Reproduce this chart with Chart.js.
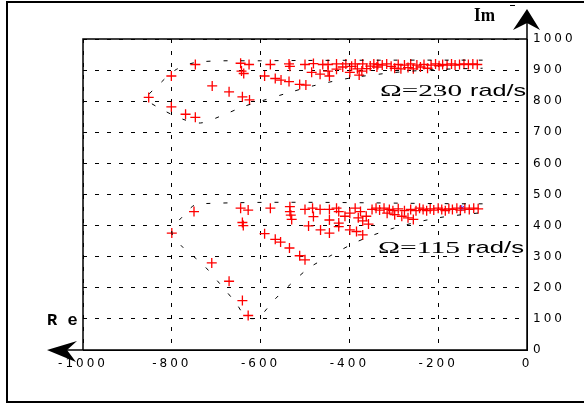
<!DOCTYPE html>
<html>
<head>
<meta charset="utf-8">
<script src="https://cdn.jsdelivr.net/npm/chart.js@4/dist/chart.umd.min.js"></script>
<style>
  body { margin: 0; background: #fff; }
  canvas { display: block; }
</style>
</head>
<body>
<canvas id="chart" width="584" height="405"></canvas>
<script>
// Eigenvalue clusters, Omega = 230 rad/s
var re230 = [-852,-801,-801,-769,-747,-747,-709,-671,-641,-625,-645,-626,-643,-638,-578,-591,-567,-554,-536,-536,
  -534,-512,-498,-500,-481,-485,-466,-460,-448,-448,-445,-429,-429,-408,-399,-387,-382,-378,-370,-361,
  -353,-345,-336,-326,-316,-306,-298,-290,-284,-276,-268,-262,-256,-248,-240,-232,-224,-216,-206,-198,
  -190,-180,-170,-162,-152,-142,-132,-122,-112,-415,-395,-372,-338];
var im230 = [812,881,782,758,748,918,849,830,814,804,922,918,897,889,918,881,873,868,863,920,
  912,854,852,918,921,893,887,918,918,897,881,920,903,920,893,920,904,884,920,905,
  913,920,918,916,920,912,906,918,904,916,908,920,904,916,910,918,906,916,920,914,
  918,916,920,916,918,920,918,920,918,910,912,897,910];

// Eigenvalue clusters, Omega = 115 rad/s
var re115 = [-800,-750,-710,-671,-641,-628,-645,-628,-641,-639,-578,-591,-567,-555,-535,-512,-500,-534,-534,-532,
  -530,-500,-483,-466,-481,-492,-465,-445,-445,-424,-424,-445,-429,-424,-399,-384,-370,-399,-387,-380,
  -370,-362,-357,-349,-340,-332,-322,-315,-310,-302,-298,-290,-282,-276,-268,-262,-256,-250,-242,-234,
  -226,-218,-210,-200,-192,-184,-176,-168,-158,-150,-140,-130,-120,-110,-410,-375];
var im115 = [376,445,280,221,159,111,456,450,410,400,456,374,356,347,328,303,290,461,445,434,
  420,452,456,452,429,399,386,376,418,408,397,452,456,445,386,381,370,440,456,425,
  415,430,405,452,456,450,456,440,452,448,435,454,430,448,425,452,420,448,456,452,
  448,454,450,456,452,448,454,452,456,450,456,452,456,454,430,445];

// blue marker
var reMark = [-147];
var imMark = [456];

// dashed envelopes
var envRe230 = [-100,-300,-600,-740,-790,-830,-856,-820,-775,-735,-690,-640,-600,-540,-480,-400,-300,-200,-100];
var envIm230 = [932,932,930,926,902,852,808,772,742,730,752,782,800,826,850,874,892,902,906];
var envRe115 = [-100,-740,-775,-800,-775,-730,-690,-655,-632,-605,-570,-530,-490,-440,-380,-300,-200,-100];
var envIm115 = [470,470,430,380,330,275,210,150,105,105,160,215,265,305,350,392,425,442];

var xMin = -1000, xMax = 0, xStep = 200;
var yMin = 0, yMax = 1000, yStep = 100;

function toPoints(xs, ys) {
  return xs.map(function(x, i) { return { x: x, y: ys[i] }; });
}

// stretch text horizontally to a given width
function drawStretched(ctx, text, font, x, y, w) {
  ctx.save();
  ctx.font = font;
  var m = ctx.measureText(text).width;
  ctx.translate(x, y);
  ctx.scale(w / m, 1);
  ctx.fillText(text, 0, 0);
  ctx.restore();
}

var decor = {
  id: 'decor',
  beforeDraw: function(chart) {
    var ctx = chart.ctx;
    ctx.save();
    ctx.fillStyle = '#fff';
    ctx.fillRect(0, 0, chart.width, chart.height);
    ctx.restore();
    ctx.letterSpacing = '3px';
  },
  afterDraw: function(chart) {
    var ctx = chart.ctx;
    var a = chart.chartArea;
    ctx.letterSpacing = '0px';
    ctx.save();
    ctx.strokeStyle = '#000';
    ctx.fillStyle = '#000';

    // outer frame
    ctx.lineWidth = 2;
    ctx.strokeRect(7, 2, 580, 400);

    // plot frame
    ctx.lineWidth = 1.5;
    ctx.beginPath();
    ctx.moveTo(a.left, a.bottom);
    ctx.lineTo(a.left, a.top);
    ctx.lineTo(a.right, a.top);
    ctx.stroke();

    // axes with arrows
    ctx.beginPath();
    ctx.moveTo(a.right, a.bottom);
    ctx.lineTo(a.right, 12);
    ctx.moveTo(a.right, a.bottom);
    ctx.lineTo(52, a.bottom);
    ctx.stroke();

    ctx.beginPath();
    ctx.moveTo(a.right, 9);
    ctx.lineTo(a.right + 13, 30);
    ctx.lineTo(a.right, 23);
    ctx.lineTo(a.right - 14, 30);
    ctx.closePath();
    ctx.fill();

    ctx.beginPath();
    ctx.moveTo(47, a.bottom);
    ctx.lineTo(77, a.bottom - 9);
    ctx.lineTo(67, a.bottom);
    ctx.lineTo(76, a.bottom + 12);
    ctx.closePath();
    ctx.fill();

    // axis names
    ctx.font = 'bold 17px "Liberation Mono"';
    ctx.textBaseline = 'middle';
    ctx.fillText('R e', 47, 321);
    ctx.textBaseline = 'alphabetic';
    drawStretched(ctx, 'Im', 'bold 18px "Liberation Serif"', 474, 21, 21);
    ctx.fillRect(510, 5, 5, 1);

    // annotations
    drawStretched(ctx, '\u03A9=230', '17px "Liberation Serif"', 380, 96, 82);
    drawStretched(ctx, 'rad/s', '17px "Liberation Sans"', 470, 96, 56);
    drawStretched(ctx, '\u03A9=115', '17px "Liberation Serif"', 378, 253, 82);
    drawStretched(ctx, 'rad/s', '17px "Liberation Sans"', 467, 253, 57);
    ctx.restore();
  }
};

var crossStyle = {
  showLine: false,
  pointStyle: 'cross',
  pointRadius: 5,
  pointBorderWidth: 1.3,
  borderColor: '#ff0000',
  backgroundColor: '#ff0000'
};

var envStyle = {
  showLine: true,
  pointRadius: 0,
  borderColor: '#000',
  borderWidth: 1,
  borderDash: [4, 13],
  tension: 0.3,
  fill: false
};

var tickFont = { family: '"DejaVu Sans"', size: 12 };

new Chart(document.getElementById('chart'), {
  type: 'scatter',
  data: {
    datasets: [
      Object.assign({ label: 'env230', data: toPoints(envRe230, envIm230) }, envStyle),
      Object.assign({ label: 'env115', data: toPoints(envRe115, envIm115) }, envStyle),
      Object.assign({ label: '230 rad/s', data: toPoints(re230, im230) }, crossStyle),
      Object.assign({ label: '115 rad/s', data: toPoints(re115, im115) }, crossStyle),
      {
        label: 'mark',
        data: toPoints(reMark, imMark),
        pointStyle: 'star',
        pointRadius: 3,
        borderColor: '#3030ff',
        backgroundColor: '#3030ff'
      }
    ]
  },
  options: {
    responsive: false,
    animation: false,
    devicePixelRatio: 1,
    layout: { padding: { left: 83, top: 39, right: 0, bottom: 0 } },
    plugins: {
      legend: { display: false },
      tooltip: { enabled: false }
    },
    scales: {
      x: {
        type: 'linear',
        min: xMin, max: xMax,
        ticks: {
          stepSize: xStep,
          padding: 7,
          color: '#000',
          maxRotation: 0,
          font: tickFont,
          callback: function(v) { return String(v); }
        },
        grid: { color: '#000', lineWidth: 1, drawTicks: false },
        border: { display: true, color: '#000', width: 1, dash: [4, 8] },
        afterFit: function(scale) { scale.height = 55; }
      },
      y: {
        type: 'linear',
        position: 'right',
        min: yMin, max: yMax,
        ticks: {
          stepSize: yStep,
          padding: 6,
          color: '#000',
          font: tickFont,
          callback: function(v) { return String(v); }
        },
        grid: { color: '#000', lineWidth: 1, drawTicks: false },
        border: { display: true, color: '#000', width: 1, dash: [4, 8] },
        afterFit: function(scale) { scale.width = 57; }
      }
    }
  },
  plugins: [decor]
});
</script>
</body>
</html>
